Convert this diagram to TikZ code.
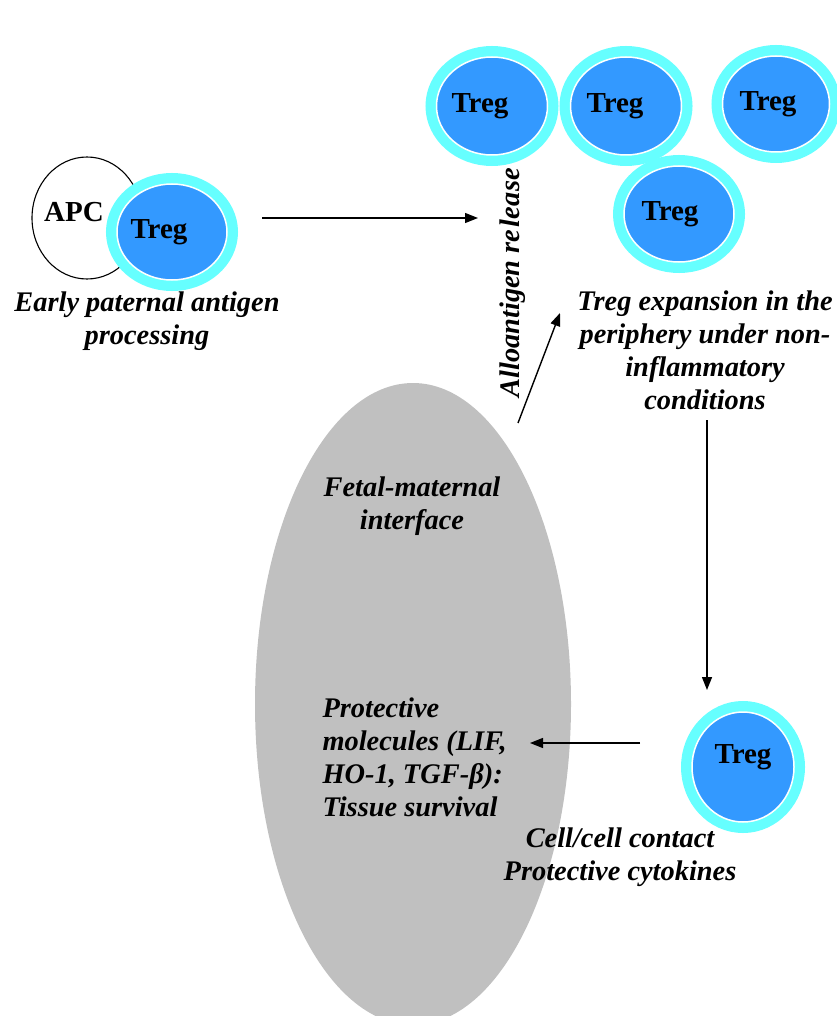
\documentclass[tikz,border=0pt]{standalone}
\usepackage{fontspec}
\setmainfont{Liberation Serif}
\usetikzlibrary{shapes.geometric,arrows.meta}
\definecolor{tcyan}{HTML}{66FFFF}
\definecolor{tblue}{HTML}{3399FF}
\definecolor{tgray}{HTML}{C0C0C0}
\tikzset{
  cell/.style={ellipse, inner sep=0pt, fill=tblue, draw=white, line width=1.5pt,
    preaction={draw=tcyan, line width=22pt}},
  tlab/.style={font=\fontsize{29}{32}\selectfont\bfseries, text=black},
  itxt/.style={font=\fontsize{28.4}{33}\selectfont\bfseries\itshape, align=center},
  arr/.style={line width=1.4pt, -{Triangle[length=13pt,width=10pt]}},
}
\begin{document}
\begin{tikzpicture}[x=1pt,y=-1pt]
\useasboundingbox (0,0) rectangle (836,1016);
% fetal-maternal interface
\node[ellipse, fill=tgray, minimum width=316pt, minimum height=642pt, inner sep=0pt] (fm) at (413,704) {};
% APC
\node[ellipse, draw=black, line width=1.1pt, minimum width=110pt, minimum height=122pt, inner sep=0pt] (apc) at (87,218) {};
\node[tlab] (apct) at (74,212) {APC};
% Treg cells
\node[cell, minimum width=110pt, minimum height=96pt, label={[tlab, xshift=-13pt]center:Treg}] (t0) at (172,232) {};
\node[cell, minimum width=111pt, minimum height=98pt, label={[tlab, xshift=-12pt]center:Treg}] (t1) at (492,106) {};
\node[cell, minimum width=111pt, minimum height=98pt, label={[tlab, xshift=-11pt]center:Treg}] (t2) at (626,106) {};
\node[cell, minimum width=107pt, minimum height=96pt, label={[tlab, xshift=-8pt]center:Treg}] (t3) at (776,104) {};
\node[cell, minimum width=110pt, minimum height=96pt, label={[tlab, xshift=-9pt]center:Treg}] (t4) at (679,214) {};
\node[cell, minimum width=102pt, minimum height=110pt, label={[tlab, yshift=10pt]center:Treg}] (t5) at (743,767) {};
% texts
\node[itxt] (early) at (147,321) {Early paternal antigen\\processing};
\node[itxt, rotate=90] (allo) at (513,283) {Alloantigen re\kern2pt le\kern1pt ase};
\node[itxt] (exp) at (705,350) {Treg expansion in the\\periphery under non-\\inflammatory\\conditions};
\node[itxt] (fmt) at (412,506) {Fetal-maternal\\interface};
\node[itxt, align=left, anchor=north west] (prot) at (319,694) {Protective\\molecules (LIF,\\HO-1, TGF-β):\\Tissue survival};
\node[itxt] (cyto) at (620,857) {Cell/cell contact\\Protective cytokines};
% connector end points
\coordinate (a1s) at (262,218);
\coordinate (a1e) at (478,218);
\coordinate (a2s) at (518,423);
\coordinate (a2e) at (560,313);
\coordinate (a3s) at (707,420);
\coordinate (a3e) at (707,690);
\coordinate (a4s) at (640,743);
\coordinate (a4e) at (530,743);
\draw[arr] (a1s) -- (a1e);
\draw[arr] (a2s) -- (a2e);
\draw[arr] (a3s) -- (a3e);
\draw[arr] (a4s) -- (a4e);
\end{tikzpicture}
\end{document}
